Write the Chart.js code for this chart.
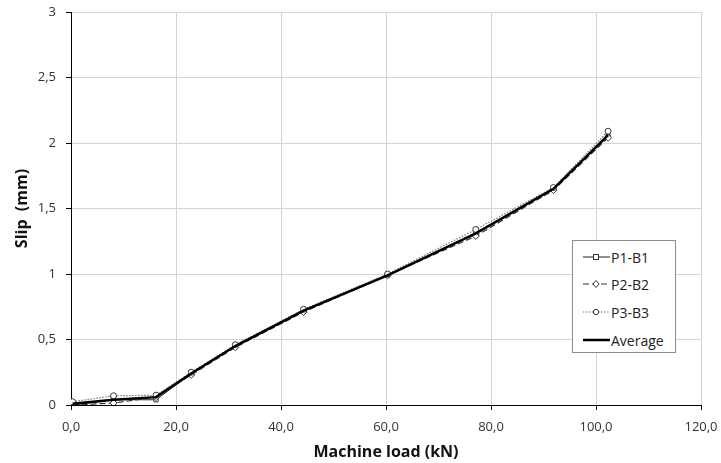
<!DOCTYPE html>
<html>
<head>
<meta charset="utf-8">
<script src="https://cdn.jsdelivr.net/npm/chart.js@4.4.0/dist/chart.umd.min.js"></script>
<style>
  html, body { margin: 0; padding: 0; background: #fff; }
  #wrap { position: relative; width: 721px; height: 463px; }
  #legend { position: absolute; left: 572px; top: 240px; width: 104px; height: 113px;
    border: 1px solid #8c8c8c; background: #fff; box-sizing: border-box;
    font-family: "Open Sans", sans-serif; font-size: 14px; color: #222; }
  .row { position: absolute; left: 10px; height: 16px; display: flex; align-items: center; }
  .row svg { margin-right: 1px; }
</style>
</head>
<body>
<div id="wrap">
  <canvas id="c" width="721" height="463"></canvas>
  <div id="legend"></div>
</div>
<script>
// ---- data ----
const loadKN = [0.3, 8.1, 16.2, 22.9, 31.3, 44.3, 60.3, 77.1, 91.9, 102.3];
const p1b1 = [0.0, 0.04, 0.04, 0.24, 0.45, 0.72, 0.99, 1.31, 1.65, 2.05];
const p2b2 = [0.0, 0.015, 0.06, 0.23, 0.44, 0.71, 0.99, 1.29, 1.64, 2.04];
const p3b3 = [0.025, 0.07, 0.075, 0.25, 0.46, 0.73, 1.0, 1.34, 1.66, 2.09];
const average = [0.01, 0.04, 0.06, 0.24, 0.45, 0.72, 0.99, 1.31, 1.65, 2.06];
const seriesNames = ["P1-B1", "P2-B2", "P3-B3", "Average"];
const xTicks = [0, 20, 40, 60, 80, 100, 120];
const yTicks = [0, 0.5, 1, 1.5, 2, 2.5, 3];

const pts = ys => loadKN.map((x, i) => ({x: x, y: ys[i]}));
const fmtX = v => v.toFixed(1).replace('.', ',');
const fmtY = v => String(v).replace('.', ',');

const styles = [
  {borderColor: '#222', borderWidth: 1, borderDash: [], pointStyle: 'rect', pointRadius: 3},
  {borderColor: '#333', borderWidth: 1.2, borderDash: [6, 3], pointStyle: 'rectRot', pointRadius: 3.5},
  {borderColor: '#777', borderWidth: 1.2, borderDash: [1.5, 1.5], pointStyle: 'circle', pointRadius: 3},
  {borderColor: '#000', borderWidth: 2.5, borderDash: [], pointStyle: false, pointRadius: 0}
];
const values = [p1b1, p2b2, p3b3, average];

const datasets = values.map((v, i) => ({
  label: seriesNames[i],
  data: pts(v),
  showLine: true,
  fill: false,
  tension: 0,
  borderColor: styles[i].borderColor,
  borderWidth: styles[i].borderWidth,
  borderDash: styles[i].borderDash,
  pointStyle: styles[i].pointStyle,
  pointRadius: styles[i].pointRadius,
  pointBackgroundColor: '#fff',
  pointBorderColor: '#333',
  pointBorderWidth: 1,
  order: 3 - i
}));

const font = {family: '"Open Sans", sans-serif', size: 13};

new Chart(document.getElementById('c'), {
  type: 'scatter',
  data: {datasets},
  options: {
    responsive: false,
    animation: false,
    devicePixelRatio: 1,
    layout: {padding: {left: 0, right: 20, top: 12, bottom: 0}},
    plugins: {legend: {display: false}, tooltip: {enabled: false}},
    scales: {
      x: {
        type: 'linear', min: 0, max: 120,
        afterBuildTicks: s => { s.ticks = xTicks.map(v => ({value: v})); },
        afterFit: s => { s.height = 58; s.paddingLeft = 0; s.paddingRight = 0; },
        ticks: {font, color: '#333', padding: 9, callback: v => fmtX(v), maxRotation: 0},
        grid: {color: '#d4d4d4', tickColor: '#000', tickLength: 5, drawTicks: true},
        border: {color: '#000', width: 1},
        title: {display: true, text: 'Machine load (kN)', color: '#111',
          font: {family: '"Open Sans", sans-serif', size: 16, weight: 'bold'}, padding: {top: 0, bottom: 1}}
      },
      y: {
        type: 'linear', min: 0, max: 3,
        afterBuildTicks: s => { s.ticks = yTicks.map(v => ({value: v})); },
        afterFit: s => { s.width = 71; s.paddingTop = 0; s.paddingBottom = 0; },
        ticks: {font, color: '#333', padding: 10, callback: v => fmtY(v)},
        grid: {color: '#d4d4d4', tickColor: '#000', tickLength: 5},
        border: {color: '#000', width: 1},
        title: {display: true, text: 'Slip  (mm)', color: '#111',
          font: {family: '"Open Sans", sans-serif', size: 16, weight: 'bold'}, padding: {top: 13, bottom: 0}}
      }
    }
  }
});

// legend (HTML overlay)
const legend = document.getElementById('legend');
const rowsY = [8, 35, 63, 91];
seriesNames.forEach((name, i) => {
  const st = styles[i];
  const row = document.createElement('div');
  row.className = 'row';
  row.style.top = rowsY[i] + 'px';
  let marker = '';
  if (st.pointStyle === 'rect') marker = '<rect x="10.5" y="5.5" width="5" height="5" fill="#fff" stroke="#333" stroke-width="1"/>';
  if (st.pointStyle === 'rectRot') marker = '<polygon points="13,4.5 16,8 13,11.5 10,8" fill="#fff" stroke="#333" stroke-width="1"/>';
  if (st.pointStyle === 'circle') marker = '<circle cx="13" cy="8" r="2.7" fill="#fff" stroke="#333" stroke-width="1"/>';
  const dash = st.borderDash.length ? ' stroke-dasharray="' + st.borderDash.join(',') + '"' : '';
  row.innerHTML = '<svg width="27" height="16"><line x1="0" y1="8" x2="27" y2="8" stroke="' + st.borderColor +
    '" stroke-width="' + st.borderWidth + '"' + dash + '/>' + marker + '</svg><span>' + name + '</span>';
  legend.appendChild(row);
});
</script>
</body>
</html>
